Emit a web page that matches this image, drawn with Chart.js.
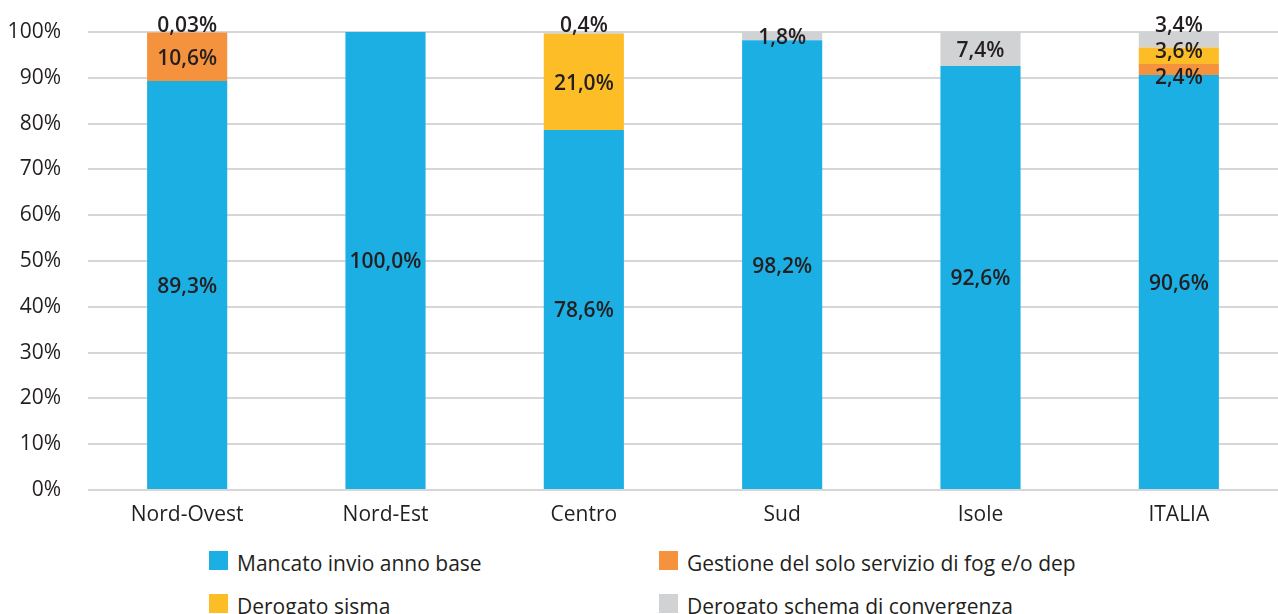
<!DOCTYPE html>
<html>
<head>
<meta charset="utf-8">
<script src="https://cdn.jsdelivr.net/npm/chart.js@4.4.1/dist/chart.umd.min.js"></script>
<style>
    html, body { margin: 0; padding: 0; background: #fff; }
    #wrap { position: relative; width: 1278px; height: 614px; font-family: "Open Sans", sans-serif; }
    #chartBox { position: absolute; left: 0; top: 0; width: 1278px; height: 534px; }
    #legend { position: absolute; left: 209px; top: 551px; display: grid; grid-template-columns: 450px 450px; row-gap: 24px; }
    .item { display: flex; align-items: center; height: 19px; font-size: 21px; line-height: 19px; color: #231f20; white-space: nowrap; }
    .item span:last-child { position: relative; top: 3px; }
    .box { width: 19px; height: 19px; margin-right: 9px; flex: none; }
</style>
</head>
<body>
<div id="wrap">
    <div id="chartBox"><canvas id="chart"></canvas></div>
    <div id="legend"></div>
</div>
<script>
// --- data ---
const categories = ['Nord-Ovest', 'Nord-Est', 'Centro', 'Sud', 'Isole', 'ITALIA'];
const mancatoInvio = [89.3, 100.0, 78.6, 98.2, 92.6, 90.6];
const gestioneFogDep = [10.6, 0, 0, 0, 0, 2.4];
const derogatoSisma = [0, 0, 21.0, 0, 0, 3.6];
const derogatoConvergenza = [0.03, 0, 0.4, 1.8, 7.4, 3.4];
const yTicks = [0, 10, 20, 30, 40, 50, 60, 70, 80, 90, 100];

const series = [
    { label: 'Mancato invio anno base', data: mancatoInvio, color: '#1cafe4' },
    { label: 'Gestione del solo servizio di fog e/o dep', data: gestioneFogDep, color: '#f5923e' },
    { label: 'Derogato sisma', data: derogatoSisma, color: '#fdbd26' },
    { label: 'Derogato schema di convergenza', data: derogatoConvergenza, color: '#d1d2d3' }
];

// small vertical nudges (px) for labels of thin segments, by [category][dataset]
const labelNudge = {
    0: { 3: -8 },
    2: { 3: -9 },
    5: { 1: 6, 2: -6, 3: -16 }
};

function fmt(v) {
    const dec = v < 0.1 ? 2 : 1;
    return v.toFixed(dec).replace('.', ',') + '%';
}

// --- value labels drawn on the bars ---
const valueLabels = {
    id: 'valueLabels',
    afterDatasetsDraw(chart) {
        const ctx = chart.ctx;
        ctx.save();
        ctx.font = '600 21px "Open Sans"';
        ctx.fillStyle = '#231f20';
        ctx.textAlign = 'center';
        ctx.textBaseline = 'middle';
        chart.data.datasets.forEach((ds, di) => {
            const meta = chart.getDatasetMeta(di);
            meta.data.forEach((bar, i) => {
                const v = ds.data[i];
                if (!v) return;
                let y = (bar.y + bar.base) / 2 + 2;
                if (labelNudge[i] && labelNudge[i][di]) y += labelNudge[i][di];
                ctx.fillText(fmt(v), bar.x, y);
            });
        });
        ctx.restore();
    }
};

const ctx = document.getElementById('chart').getContext('2d');

new Chart(ctx, {
    type: 'bar',
    data: {
        labels: categories,
        datasets: series.map(s => ({
            label: s.label,
            data: s.data,
            backgroundColor: s.color,
            borderWidth: 0,
            barPercentage: 0.404,
            categoryPercentage: 1
        }))
    },
    options: {
        responsive: true,
        maintainAspectRatio: false,
        animation: false,
        layout: {
            padding: { top: 32, right: 0, left: 0, bottom: 0 }
        },
        plugins: {
            legend: { display: false },
            tooltip: { enabled: false }
        },
        scales: {
            x: {
                stacked: true,
                grid: { display: false, drawTicks: false },
                border: { display: false },
                ticks: {
                    color: '#231f20',
                    padding: 12,
                    font: { family: 'Open Sans', size: 21 }
                },
                afterFit: (scale) => { scale.height = 44; }
            },
            y: {
                stacked: true,
                min: 0,
                max: 100,
                afterBuildTicks: (scale) => {
                    scale.ticks = yTicks.map(v => ({ value: v }));
                },
                grid: {
                    color: '#d6d6d6',
                    lineWidth: 2,
                    drawTicks: false
                },
                border: { display: false },
                ticks: {
                    color: '#231f20',
                    padding: 27,
                    font: { family: 'Open Sans', size: 21 },
                    callback: (value) => value + '%'
                },
                afterFit: (scale) => {
                    scale.width = 88;
                    scale.paddingTop = 0;
                    scale.paddingBottom = 0;
                }
            }
        }
    },
    plugins: [valueLabels]
});

// --- legend (2 columns) ---
const legend = document.getElementById('legend');
series.forEach(s => {
    const item = document.createElement('div');
    item.className = 'item';
    const box = document.createElement('span');
    box.className = 'box';
    box.style.background = s.color;
    const txt = document.createElement('span');
    txt.textContent = s.label;
    item.appendChild(box);
    item.appendChild(txt);
    legend.appendChild(item);
});
</script>
</body>
</html>
